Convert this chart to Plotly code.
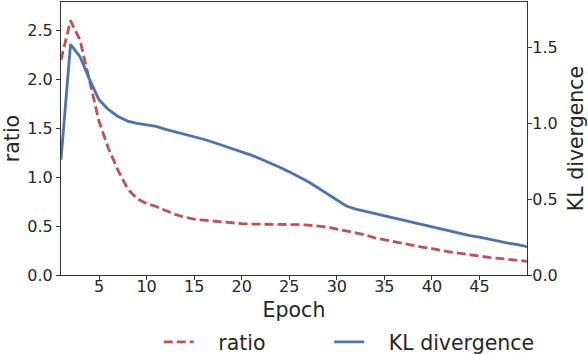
import plotly.graph_objects as go

epochs = list(range(1, 51))

ratio = [2.2, 2.6, 2.4, 1.97, 1.57, 1.29, 1.07, 0.88, 0.78, 0.73,
         0.70, 0.66, 0.62, 0.59, 0.57, 0.56, 0.55, 0.54, 0.535, 0.525,
         0.52, 0.52, 0.52, 0.52, 0.52, 0.515, 0.51, 0.50, 0.49, 0.47,
         0.45, 0.43, 0.41, 0.38, 0.36, 0.34, 0.32, 0.30, 0.285, 0.27,
         0.25, 0.235, 0.22, 0.205, 0.19, 0.18, 0.17, 0.16, 0.15, 0.14]

kl_div = [0.76, 1.52, 1.44, 1.29, 1.155, 1.09, 1.045, 1.015, 1.0, 0.99,
          0.98, 0.96, 0.945, 0.93, 0.915, 0.895, 0.875, 0.855, 0.835, 0.815,
          0.79, 0.765, 0.74, 0.71, 0.68, 0.65, 0.615, 0.575, 0.535, 0.49,
          0.455, 0.435, 0.42, 0.405, 0.39, 0.375, 0.36, 0.345, 0.33, 0.315,
          0.30, 0.285, 0.27, 0.26, 0.25, 0.235, 0.225, 0.21, 0.20, 0.187]

x_ticks = [5, 10, 15, 20, 25, 30, 35, 40, 45]
left_ticks = [0.0, 0.5, 1.0, 1.5, 2.0, 2.5]
right_ticks = [0.0, 0.5, 1.0, 1.5]

RED = "#c44e52"
BLUE = "#4c72b0"
INK = "#262626"
FONT = "DejaVu Sans"
NB = "\u00a0"  # spacing inside legend labels

fig = go.Figure()
fig.add_trace(go.Scatter(x=epochs, y=ratio, name=NB * 3 + "ratio" + NB * 9, mode="lines",
                         line=dict(color=RED, width=2.8, dash="9px,4px")))
fig.add_trace(go.Scatter(x=epochs, y=kl_div, name=NB * 3 + "KL divergence", mode="lines",
                         yaxis="y2", line=dict(color=BLUE, width=2.8)))

axis_common = dict(showline=True, linecolor="#333333", linewidth=1.2,
                   ticks="outside", ticklen=4, tickcolor="#333333",
                   showgrid=False, zeroline=False, automargin=False,
                   tickfont=dict(size=16, color=INK, family=FONT))

fig.update_layout(
    width=588, height=354,
    margin=dict(l=61, r=61, t=2, b=79),
    plot_bgcolor="white", paper_bgcolor="white",
    font=dict(family=FONT, color=INK),
    xaxis=dict(range=[1, 50], tickvals=x_ticks, mirror=True, ticklabelstandoff=-7,
               title=dict(text="Epoch", font=dict(size=20.5), standoff=10),
               **axis_common),
    yaxis=dict(range=[0, 2.79], tickvals=left_ticks, tickformat=".1f",
               title=dict(text="ratio", font=dict(size=20.5), standoff=6),
               **axis_common),
    yaxis2=dict(range=[0, 1.8], tickvals=right_ticks, tickformat=".1f",
                overlaying="y", side="right", ticklabelstandoff=-3,
                title=dict(text="KL divergence", font=dict(size=20.5), standoff=18),
                **axis_common),
    legend=dict(orientation="h", xref="container", yref="container",
                x=0.27, xanchor="left", y=0.034, yanchor="middle",
                font=dict(size=20.5)),
)

fig.write_html("out.html", config={"displayModeBar": False},
               post_script="document.body.style.margin='0px';")
